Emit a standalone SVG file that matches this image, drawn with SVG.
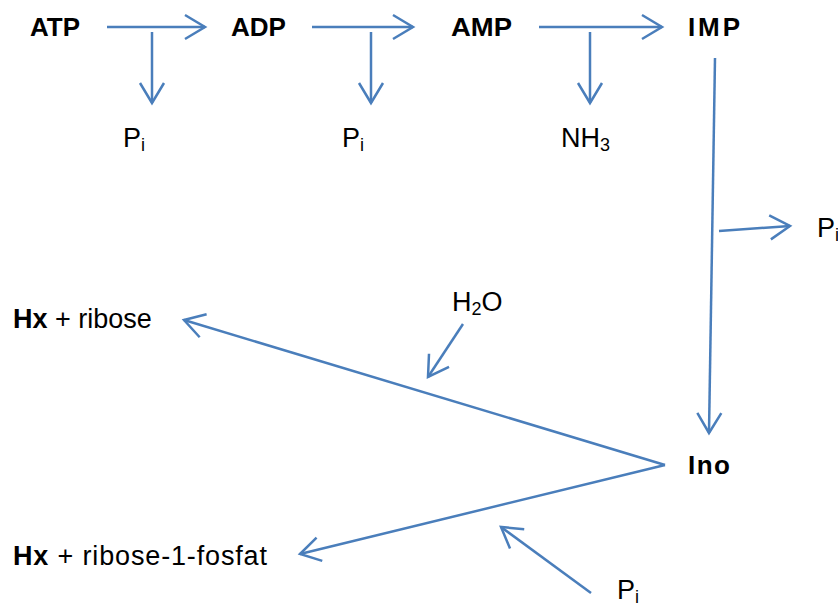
<svg xmlns="http://www.w3.org/2000/svg" width="838" height="608" viewBox="0 0 838 608">
  <style>
    text { font-family: "Liberation Sans", Arial, sans-serif; font-size: 27px; fill: #000; }
    .b { font-weight: bold; font-size: 26px; }
    .sub { font-size: 18px; }
    .c { fill: none; stroke: #4A7EBB; stroke-width: 2.5; marker-end: url(#ah); }
  </style>
  <defs>
    <marker id="ah" markerWidth="26" markerHeight="28" refX="22" refY="13" orient="auto" markerUnits="userSpaceOnUse" overflow="visible">
      <path d="M2,1 L22,13 L2,25" fill="none" stroke="#4A7EBB" stroke-width="2.5"/>
    </marker>
  </defs>
  <rect width="838" height="608" fill="#fff"/>

  <g id="connectors">
    <path class="c" d="M107,27 H205"/>
    <path class="c" d="M152,32 V103"/>
    <path class="c" d="M312,27 H413"/>
    <path class="c" d="M371,32 V103"/>
    <path class="c" d="M539,27 H662"/>
    <path class="c" d="M590,32 V103"/>
    <path class="c" d="M715,58 L709,433"/>
    <path class="c" d="M719,231 L790,226"/>
    <path class="c" d="M665,465 L184,320"/>
    <path class="c" d="M463,324 L428,377"/>
    <path class="c" d="M665,465 L300,554"/>
    <path class="c" d="M591,593 L501,527"/>
  </g>

  <g id="ATP"><text class="b" x="30" y="36" textLength="50" lengthAdjust="spacingAndGlyphs">ATP</text></g>
  <g id="ADP"><text class="b" x="231" y="36" textLength="55" lengthAdjust="spacingAndGlyphs">ADP</text></g>
  <g id="AMP"><text class="b" x="451" y="36" textLength="61" lengthAdjust="spacingAndGlyphs">AMP</text></g>
  <g id="IMP"><text class="b" x="688" y="36" textLength="52" lengthAdjust="spacing">IMP</text></g>
  <g id="Pi1"><text x="123" y="147">P<tspan class="sub" dy="4">i</tspan></text></g>
  <g id="Pi2"><text x="342" y="147">P<tspan class="sub" dy="4">i</tspan></text></g>
  <g id="NH3"><text x="561" y="147">NH<tspan class="sub" dy="4">3</tspan></text></g>
  <g id="Pi3"><text x="817" y="237">P<tspan class="sub" dy="4">i</tspan></text></g>
  <g id="Hx-ribose"><text x="13" y="328"><tspan font-weight="bold">Hx</tspan> + ribose</text></g>
  <g id="H2O"><text x="452" y="311">H<tspan class="sub" dy="4">2</tspan><tspan dy="-4">O</tspan></text></g>
  <g id="Ino"><text class="b" x="688" y="474" textLength="42" lengthAdjust="spacing">Ino</text></g>
  <g id="Hx-ribose-1-fosfat"><text x="13" y="565" textLength="254" lengthAdjust="spacing"><tspan font-weight="bold">Hx</tspan> + ribose-1-fosfat</text></g>
  <g id="Pi4"><text x="617" y="599">P<tspan class="sub" dy="4">i</tspan></text></g>
</svg>
